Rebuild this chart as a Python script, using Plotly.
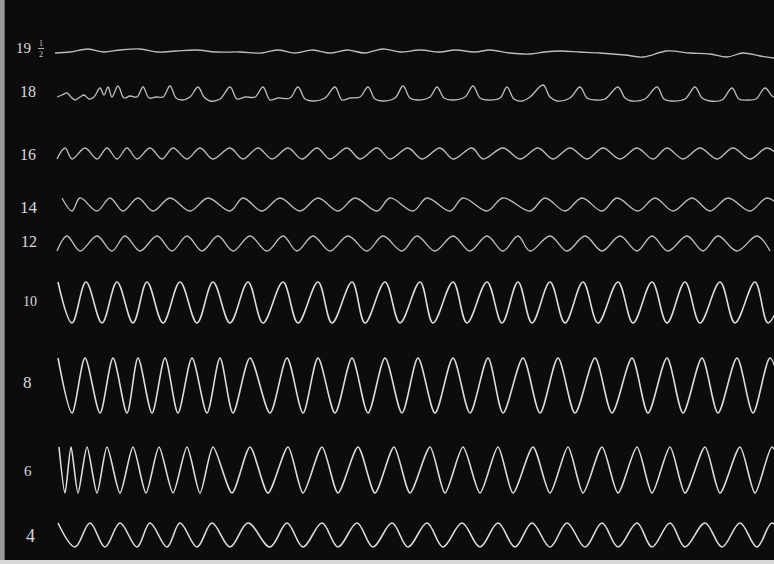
import plotly.graph_objects as go

W, H = 774, 564

# ---------------- data ----------------
# trace labels (vibration counts written at the left of each record)
labels = ["19", "18", "16", "14", "12", "10", "8", "6", "4"]
label_x = [23, 28, 28, 29, 29, 30, 27, 28, 30]
label_y = [48, 91, 154, 207, 241, 301, 382, 471, 536]
label_size = [15, 16, 16, 17, 16, 14, 17, 15, 18]

# record "19 1/2": almost flat pen line (time, pen position)
t19 = [55, 70, 88, 104, 120, 140, 158, 176, 196, 216, 240, 262, 277, 295, 313, 330, 347,
       365, 383, 400, 420, 440, 455, 475, 490, 510, 530, 545, 560, 580, 600, 625, 643,
       667, 690, 710, 727, 743, 760, 774]
y19 = [53, 52, 49, 52, 50, 49, 52, 51, 50, 52, 52, 53, 50, 53, 50, 53, 50,
       53, 49, 52, 50, 52, 50, 52, 50, 53, 54, 52, 51, 52, 53, 55, 57,
       51, 53, 54, 57, 53, 56, 58]

# record "18": sharp spikes on a flat base (time, pen position)
t18 = [57, 62, 67, 71, 75, 80, 84, 89, 94, 100, 104, 108, 112, 118, 124, 130, 137, 143, 149,
       156, 163, 170, 176, 182, 190, 198, 204, 210, 220, 230, 237, 245, 255, 263, 270, 278,
       290, 298, 305, 312, 325, 335, 342, 350, 360, 368, 375, 382, 395, 403, 410, 418, 430,
       437, 444, 452, 465, 473, 480, 488, 500, 507, 514, 522, 530, 543, 550, 557, 570, 580,
       587, 595, 605, 618, 625, 632, 645, 657, 664, 672, 685, 695, 702, 710, 722, 732, 739,
       748, 756, 765, 772, 774]
y18 = [97, 95, 93, 97, 100, 97, 95, 99, 97, 88, 95, 87, 97, 86, 98, 96, 97, 87, 98,
       97, 97, 86, 98, 100, 97, 87, 97, 101, 99, 87, 99, 97, 97, 87, 100, 98,
       98, 87, 99, 101, 98, 87, 100, 98, 97, 87, 99, 101, 98, 86, 98, 100, 97,
       87, 98, 100, 97, 86, 98, 100, 98, 87, 99, 101, 97, 85, 97, 101, 98, 87,
       98, 100, 99, 87, 98, 101, 99, 87, 99, 101, 99, 87, 98, 101, 100, 88, 99,
       100, 99, 88, 96, 97]

# regular records: times of crests and of troughs, with crest / trough pen positions
w16_crests = [65, 85, 107, 127, 150, 173, 200, 230, 258, 288, 317, 347, 377, 408, 440, 472,
              503, 538, 570, 603, 637, 667, 700, 733, 767]
w16_troughs = [57, 72, 97, 117, 137, 162, 187, 213, 243, 272, 302, 330, 360, 390, 422, 453, 483,
               520, 553, 587, 620, 653, 683, 717, 750, 782]
w16_levels = [148, 159]

w14_crests = [62, 80, 110, 138, 170, 208, 243, 280, 318, 355, 390, 427, 463, 503, 545, 582,
              617, 655, 692, 728, 767]
w14_troughs = [72, 97, 123, 153, 190, 230, 262, 300, 338, 377, 413, 450, 487, 530, 565, 602,
               638, 673, 710, 750, 785]
w14_levels = [198, 211]

w12_crests = [67, 97, 125, 157, 187, 218, 250, 283, 313, 348, 383, 417, 453, 487, 518, 550,
              585, 620, 652, 687, 718, 757]
w12_troughs = [57, 80, 112, 140, 172, 202, 233, 267, 297, 330, 367, 402, 435, 470, 503, 530, 567,
               602, 637, 668, 703, 737, 770]
w12_levels = [236, 251]

w10_crests = [58, 86, 117, 147, 180, 213, 248, 283, 318, 352, 385, 420, 453, 487, 518, 550,
              583, 618, 652, 685, 720, 755, 787]
w10_troughs = [72, 102, 133, 163, 197, 230, 263, 298, 332, 365, 400, 433, 467, 502, 532, 565,
               598, 633, 667, 700, 735, 768]
w10_levels = [282, 323]

w8_crests = [58, 85, 113, 138, 165, 192, 220, 250, 287, 318, 352, 385, 418, 453, 488, 523,
             558, 595, 632, 667, 702, 737, 770]
w8_troughs = [72, 100, 127, 152, 178, 207, 233, 270, 303, 335, 368, 402, 435, 470, 503, 540,
              575, 612, 648, 683, 718, 753, 787]
w8_levels = [358, 413]

w6_crests = [59, 71, 87, 107, 133, 159, 187, 213, 250, 288, 322, 358, 394, 430, 463, 498,
             533, 568, 602, 637, 670, 705, 740, 772]
w6_troughs = [65, 78, 97, 120, 146, 173, 200, 232, 268, 303, 338, 375, 410, 445, 480, 513,
              550, 583, 618, 652, 685, 720, 755, 788]
w6_levels = [447, 493]

w4_crests = [58, 90, 120, 150, 180, 212, 248, 287, 322, 357, 392, 427, 462, 498, 532, 567,
             602, 637, 670, 705, 740, 772]
w4_troughs = [75, 105, 137, 167, 197, 230, 270, 303, 338, 373, 408, 443, 480, 515, 550, 585,
              618, 652, 685, 722, 757, 788]
w4_levels = [523, 547]

# ---------------- build the figure ----------------
def alternate(crests, troughs, levels):
    pts = [(t, levels[0]) for t in crests] + [(t, levels[1]) for t in troughs]
    pts.sort()
    return [p[0] for p in pts], [p[1] for p in pts]

faint = "#bdbdbd"
bright = "#dcdcdc"

fig = go.Figure()
fig.add_trace(go.Scatter(x=t19, y=y19, mode="lines",
                         line=dict(color=faint, width=1.3, shape="spline", smoothing=1)))
fig.add_trace(go.Scatter(x=t18, y=y18, mode="lines",
                         line=dict(color=faint, width=1.3, shape="spline", smoothing=1)))

records = [
    (w16_crests, w16_troughs, w16_levels, faint, 1.3, 1),
    (w14_crests, w14_troughs, w14_levels, faint, 1.3, 1),
    (w12_crests, w12_troughs, w12_levels, faint, 1.3, 1),
    (w10_crests, w10_troughs, w10_levels, bright, 1.6, 1),
    (w8_crests, w8_troughs, w8_levels, bright, 1.6, 0.8),
    (w6_crests, w6_troughs, w6_levels, bright, 1.6, 0.7),
    (w4_crests, w4_troughs, w4_levels, bright, 1.6, 1),
]
for crests, troughs, levels, col, lw, sm in records:
    xs, ys = alternate(crests, troughs, levels)
    fig.add_trace(go.Scatter(x=xs, y=ys, mode="lines",
                             line=dict(color=col, width=lw, shape="spline", smoothing=sm)))

for lab, lx, ly, ls in zip(labels, label_x, label_y, label_size):
    fig.add_annotation(x=lx, y=ly, text=lab, showarrow=False, xref="x", yref="y",
                       font=dict(family="Liberation Serif, DejaVu Serif, serif", size=ls,
                                 color="#d9d9d9"))
# small stacked fraction 1/2 after "19"
fig.add_annotation(x=41, y=43, text="1", showarrow=False, xref="x", yref="y",
                   font=dict(family="Liberation Serif, serif", size=8, color="#c8c8c8"))
fig.add_annotation(x=41, y=54, text="2", showarrow=False, xref="x", yref="y",
                   font=dict(family="Liberation Serif, serif", size=8, color="#c8c8c8"))
fig.add_shape(type="line", x0=38, x1=44, y0=48.5, y1=48.5, xref="x", yref="y",
              line=dict(color="#b0b0b0", width=1))

# light edges of the photographic plate
fig.add_shape(type="rect", xref="paper", yref="paper", x0=0, x1=0.006, y0=0, y1=1,
              line=dict(width=0), fillcolor="#9a9a9a", layer="above")
fig.add_shape(type="rect", xref="paper", yref="paper", x0=0, x1=1, y0=0, y1=0.007,
              line=dict(width=0), fillcolor="#d8d8d8", layer="above")

fig.update_layout(
    width=W, height=H,
    margin=dict(l=0, r=0, t=0, b=0),
    paper_bgcolor="#0c0c0c", plot_bgcolor="#0c0c0c",
    showlegend=False,
    xaxis=dict(range=[0, W], visible=False, fixedrange=True),
    yaxis=dict(range=[H, 0], visible=False, fixedrange=True),
)

fig.write_html("out.html", config={"displayModeBar": False},
               post_script="document.body.style.margin='0';document.body.style.background='#0c0c0c';document.body.style.overflow='hidden';")
